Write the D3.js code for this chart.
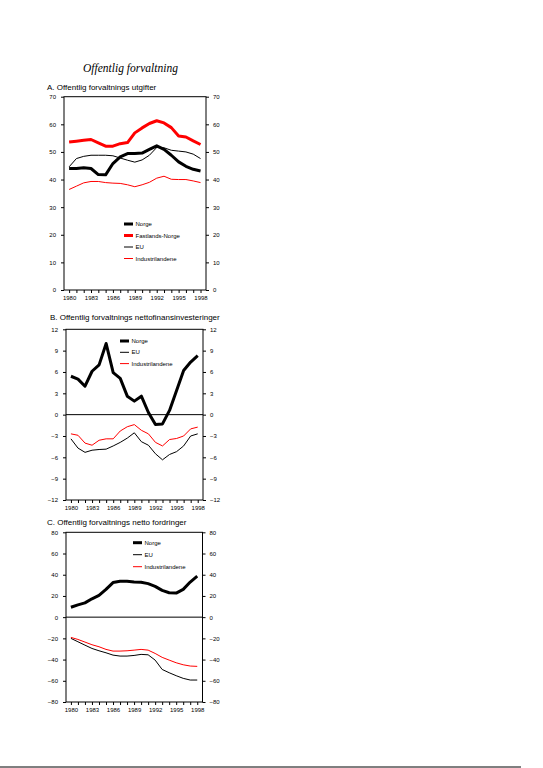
<!DOCTYPE html>
<html>
<head>
<meta charset="utf-8">
<script src="https://cdn.jsdelivr.net/npm/d3@7"></script>
<style>
  body { margin: 0; background: #fff; }
  svg text { font-family: Arial, "Liberation Sans", sans-serif; fill: #000; }
</style>
</head>
<body>
<svg id="chart" width="543" height="768"></svg>
<script>
const years = d3.range(1980, 1999);
const labelYears = [1980, 1983, 1986, 1989, 1992, 1995, 1998];

// A. utgifter, prosent av BNP
const aNorge = [44.0, 44.0, 44.3, 44.0, 41.8, 41.7, 45.8, 48.2, 49.4, 49.4, 49.6, 50.9, 52.2, 50.9, 48.8, 46.4, 44.8, 43.7, 43.1];
const aFastland = [53.6, 53.9, 54.2, 54.5, 53.3, 52.1, 52.1, 53.0, 53.4, 56.9, 58.7, 60.3, 61.3, 60.5, 58.8, 55.8, 55.4, 54.0, 52.7];
const aEU = [44.6, 47.6, 48.4, 48.8, 48.8, 48.8, 48.6, 47.8, 47.0, 46.3, 47.1, 48.8, 51.6, 51.5, 50.6, 50.3, 50.0, 49.2, 47.6];
const aInd = [36.4, 37.6, 38.8, 39.3, 39.3, 38.9, 38.7, 38.6, 38.1, 37.4, 38.1, 39.0, 40.5, 41.2, 40.1, 40.0, 40.0, 39.5, 38.9];
const aTicks = [0, 10, 20, 30, 40, 50, 60, 70];

// B. nettofinansinvesteringer
const bNorge = [5.4, 5.0, 4.0, 6.1, 7.0, 10.0, 5.9, 5.1, 2.6, 1.9, 2.6, 0.3, -1.4, -1.3, 0.6, 3.4, 6.2, 7.4, 8.3];
const bEU = [-3.4, -4.7, -5.3, -5.0, -4.9, -4.85, -4.4, -3.9, -3.3, -2.55, -3.8, -4.3, -5.5, -6.35, -5.6, -5.2, -4.4, -3.0, -2.7];
const bInd = [-2.7, -2.9, -4.0, -4.3, -3.6, -3.4, -3.4, -2.3, -1.7, -1.4, -2.2, -2.7, -3.9, -4.4, -3.5, -3.35, -3.0, -2.0, -1.75];
const bTicks = [-12, -9, -6, -3, 0, 3, 6, 9, 12];

// C. netto fordringer
const cNorge = [9.3, 11.6, 13.5, 17.3, 20.5, 26.2, 32.6, 33.8, 33.8, 33.1, 32.9, 31.6, 29.0, 25.2, 23.0, 22.7, 26.2, 33.1, 38.6];
const cEU = [-20, -23.2, -26.4, -29.5, -31.7, -33.6, -35.8, -36.7, -36.7, -36.1, -35.1, -35.5, -40.5, -49.3, -52.4, -55.2, -57.7, -59.3, -59.3];
const cInd = [-19.1, -21, -23.5, -26, -27.9, -30.4, -32, -32, -31.7, -31.1, -30.4, -31.1, -34.2, -37.9, -40.5, -43, -44.9, -46.1, -46.4];
const cTicks = [-80, -60, -40, -20, 0, 20, 40, 60, 80];

const svg = d3.select("#chart");

svg.append("text")
  .attr("x", 130.5).attr("y", 72)
  .attr("text-anchor", "middle")
  .style("font-family", "'Liberation Serif', 'DejaVu Serif', serif")
  .style("font-style", "italic")
  .style("font-size", "11.5px")
  .text("Offentlig forvaltning");

const thick = { color: "#000", width: 3 };
const red = { color: "#f00", width: 3 };
const thinBlack = { color: "#000", width: 1 };
const thinRed = { color: "#f00", width: 1 };

const panels = [
  {
    title: "A. Offentlig forvaltnings utgifter", titleX: 47, titleY: 89.5,
    left: 64, right: 206, top: 96.7, bottom: 290, domain: [0, 70], ticks: aTicks, zero: false,
    series: [
      { name: "Norge", values: aNorge, ...thick },
      { name: "Fastlands-Norge", values: aFastland, ...red },
      { name: "EU", values: aEU, ...thinBlack },
      { name: "Industrilandene", values: aInd, ...thinRed }
    ],
    legendX: 124, legendY: 224, legendStep: 11.5
  },
  {
    title: "B. Offentlig forvaltnings nettofinansinvesteringer", titleX: 50, titleY: 319.5,
    left: 66, right: 203, top: 329.3, bottom: 500, domain: [-12, 12], ticks: bTicks, zero: true,
    series: [
      { name: "Norge", values: bNorge, ...thick },
      { name: "EU", values: bEU, ...thinBlack },
      { name: "Industrilandene", values: bInd, ...thinRed }
    ],
    legendX: 120, legendY: 341, legendStep: 11.3
  },
  {
    title: "C. Offentlig forvaltnings netto fordringer", titleX: 47, titleY: 525,
    left: 66, right: 202.5, top: 532.3, bottom: 702, domain: [-80, 80], ticks: cTicks, zero: true,
    series: [
      { name: "Norge", values: cNorge, ...thick },
      { name: "EU", values: cEU, ...thinBlack },
      { name: "Industrilandene", values: cInd, ...thinRed }
    ],
    legendX: 133, legendY: 542.7, legendStep: 12
  }
];

function drawPanel(p) {
  const x = d3.scaleLinear().domain([1979.3, 1998.75]).range([p.left, p.right]);
  const y = d3.scaleLinear().domain(p.domain).range([p.bottom, p.top]);
  const g = svg.append("g");

  g.append("text")
    .attr("x", p.titleX).attr("y", p.titleY)
    .style("font-size", "8px")
    .text(p.title);

  const yLeft = g.append("g").attr("transform", `translate(${p.left},0)`)
    .call(d3.axisLeft(y).tickValues(p.ticks).tickSize(3).tickPadding(5).tickFormat(d3.format("d")));
  const yRight = g.append("g").attr("transform", `translate(${p.right},0)`)
    .call(d3.axisRight(y).tickValues(p.ticks).tickSize(3).tickPadding(4).tickFormat(d3.format("d")));
  const xAxis = g.append("g").attr("transform", `translate(0,${p.bottom})`)
    .call(d3.axisBottom(x).tickValues(years).tickSize(3).tickPadding(3)
      .tickFormat(d => labelYears.includes(d) ? d : ""));

  [yLeft, yRight, xAxis].forEach(a => {
    a.select(".domain").remove();
    a.selectAll("line").attr("stroke", "#000");
    a.selectAll("text").style("font-size", "6px").style("font-family", "Arial, 'Liberation Sans', sans-serif");
  });

  g.append("rect")
    .attr("x", p.left).attr("y", p.top)
    .attr("width", p.right - p.left).attr("height", p.bottom - p.top)
    .attr("fill", "none").attr("stroke", "#000").attr("stroke-width", 1);

  if (p.zero) {
    g.append("line")
      .attr("x1", p.left).attr("x2", p.right)
      .attr("y1", y(0)).attr("y2", y(0))
      .attr("stroke", "#000").attr("stroke-width", 1);
  }

  const line = d3.line().x((d, i) => x(years[i])).y(d => y(d));
  for (const s of p.series) {
    g.append("path")
      .attr("d", line(s.values))
      .attr("fill", "none")
      .attr("stroke", s.color)
      .attr("stroke-width", s.width)
      .attr("stroke-linejoin", "round");
  }

  p.series.forEach((s, i) => {
    const ly = p.legendY + i * p.legendStep;
    g.append("line")
      .attr("x1", p.legendX).attr("x2", p.legendX + 9)
      .attr("y1", ly).attr("y2", ly)
      .attr("stroke", s.color).attr("stroke-width", s.width);
    g.append("text")
      .attr("x", p.legendX + 11.5).attr("y", ly + 2)
      .style("font-size", "6px")
      .text(s.name);
  });
}

panels.forEach(drawPanel);

svg.append("line")
  .attr("x1", 0).attr("x2", 521)
  .attr("y1", 767).attr("y2", 767)
  .attr("stroke", "#000").attr("stroke-width", 1);
</script>
</body>
</html>
